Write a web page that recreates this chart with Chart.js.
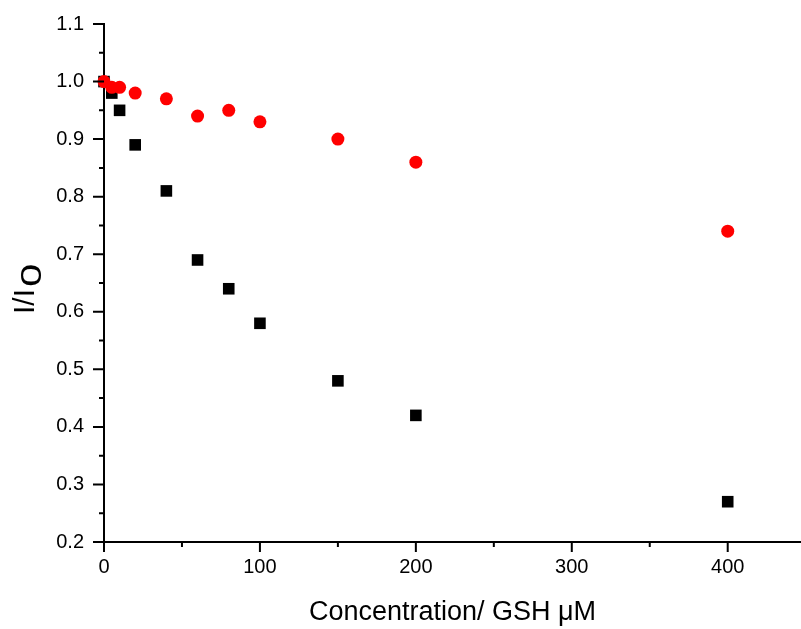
<!DOCTYPE html>
<html>
<head>
<meta charset="utf-8">
<script src="https://cdn.jsdelivr.net/npm/chart.js@4/dist/chart.umd.min.js"></script>
<style>
  html, body { margin: 0; padding: 0; background: #fff; overflow: hidden; }
  canvas { display: block; }
</style>
</head>
<body>
<canvas id="myChart" width="801" height="629"></canvas>
<script>
// concentration of GSH (uM)
const conc = [0, 5, 10, 20, 40, 60, 80, 100, 150, 200, 400];
// I/I0 values
const blackVals = [1.00, 0.98, 0.95, 0.89, 0.81, 0.69, 0.64, 0.58, 0.48, 0.42, 0.27];
const redVals   = [1.00, 0.99, 0.99, 0.98, 0.97, 0.94, 0.95, 0.93, 0.90, 0.86, 0.74];

const font = "'Liberation Sans', Arial, sans-serif";

function toXY(xs, ys) {
  return xs.map((x, i) => ({ x: x, y: ys[i] }));
}

// draws major + minor ticks and the y title with a subscript
const axisDeco = {
  id: 'axisDeco',
  afterDraw(chart) {
    const ctx = chart.ctx;
    const xs = chart.scales.x, ys = chart.scales.y;
    const area = chart.chartArea;
    ctx.save();
    ctx.strokeStyle = '#000';
    ctx.lineWidth = 2;
    ctx.beginPath();
    // x ticks
    for (let v = 0; v <= xs.max; v += 50) {
      const px = xs.getPixelForValue(v);
      const len = (v % 100 === 0) ? 10 : 5;
      ctx.moveTo(px, area.bottom);
      ctx.lineTo(px, area.bottom + len);
    }
    // y ticks
    for (let k = 0; k <= 18; k++) {
      const v = 0.2 + k * 0.05;
      const py = ys.getPixelForValue(v);
      const len = (k % 2 === 0) ? 11 : 5;
      ctx.moveTo(area.left, py);
      ctx.lineTo(area.left - len, py);
    }
    ctx.stroke();

    // y axis title I/I0, subscript 0 is drawn wide like the original
    ctx.translate(0, 314);
    ctx.rotate(-Math.PI / 2);
    ctx.fillStyle = '#000';
    ctx.textBaseline = 'alphabetic';
    ctx.font = '30px ' + font;
    ctx.fillText('I/I', 0, 34);
    ctx.translate(27, 41);
    ctx.scale(1.4, 1);
    ctx.fillText('0', 0, 0);
    ctx.restore();
  }
};

const data = {
  datasets: [
    {
      label: 'red',
      data: toXY(conc, redVals),
      backgroundColor: 'rgb(255, 0, 0)',
      borderColor: 'rgb(255, 0, 0)',
      pointStyle: 'circle',
      pointRadius: 6.5,
      pointBorderWidth: 0,
      clip: false
    },
    {
      label: 'black',
      data: toXY(conc, blackVals),
      backgroundColor: '#000',
      borderColor: '#000',
      pointStyle: 'rect',
      pointRadius: 8.2,
      pointBorderWidth: 0,
      clip: false
    }
  ]
};

const config = {
  type: 'scatter',
  data: data,
  options: {
    responsive: false,
    animation: false,
    layout: { autoPadding: false, padding: { top: 24, right: 0, left: 0, bottom: 0 } },
    plugins: {
      legend: { display: false },
      tooltip: { enabled: false }
    },
    scales: {
      x: {
        type: 'linear',
        min: 0,
        max: 447,
        grid: { display: false, drawTicks: false },
        border: { display: true, color: '#000', width: 2 },
        ticks: {
          stepSize: 100,
          includeBounds: false,
          color: '#000',
          font: { family: font, size: 20 },
          padding: 13,
          maxRotation: 0
        },
        title: {
          display: true,
          text: 'Concentration/ GSH μM',
          color: '#000',
          font: { family: font, size: 27 },
          padding: { top: 10, bottom: 0 }
        },
        afterFit(scale) {
          scale.height = 629 - 542;
          scale.paddingLeft = 0;
          scale.paddingRight = 0;
        }
      },
      y: {
        type: 'linear',
        min: 0.2,
        max: 1.1,
        grid: { display: false, drawTicks: false },
        border: { display: true, color: '#000', width: 2 },
        ticks: {
          stepSize: 0.1,
          color: '#000',
          font: { family: font, size: 20 },
          padding: 20,
          callback: (v) => Number(v).toFixed(1)
        },
        afterFit(scale) {
          scale.width = 104;
          scale.paddingTop = 0;
          scale.paddingBottom = 0;
        }
      }
    }
  },
  plugins: [axisDeco]
};

const myChart = new Chart(document.getElementById('myChart'), config);
</script>
</body>
</html>
